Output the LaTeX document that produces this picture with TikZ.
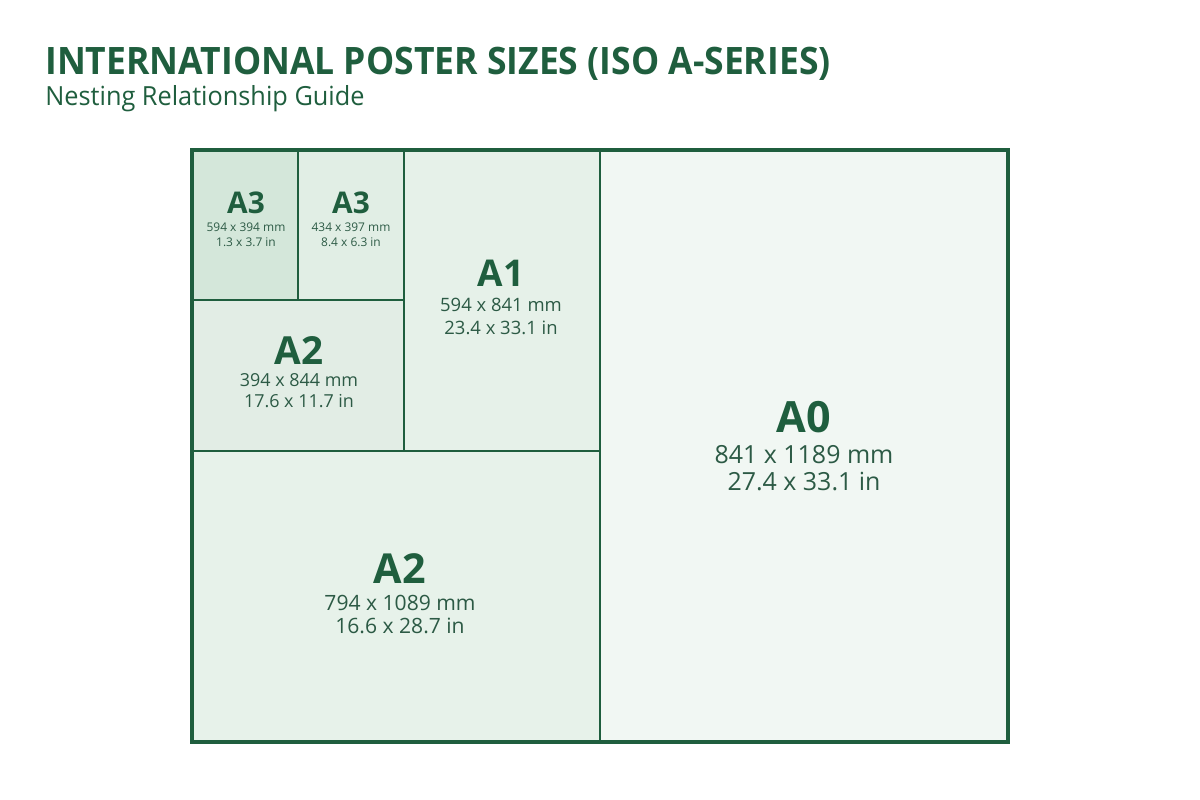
\documentclass[tikz,border=0pt]{standalone}
\usepackage{fontspec}
\setmainfont{Open Sans}
\newfontfamily\titlefont[FakeStretch=0.94]{Open Sans}
\newfontfamily\subtitlefont[FakeStretch=0.96]{Open Sans}
\usetikzlibrary{fit}
\definecolor{bordergreen}{HTML}{1F5E3E}
\definecolor{textgreen}{HTML}{1F5E3E}
\definecolor{smallgreen}{HTML}{2C5A45}
\definecolor{fAthreeA}{HTML}{D4E7DA}
\definecolor{fAthreeB}{HTML}{E1EEE5}
\definecolor{fAtwoS}{HTML}{E2EDE5}
\definecolor{fAone}{HTML}{E6F1E9}
\definecolor{fAtwoB}{HTML}{E7F2EA}
\definecolor{fAzero}{HTML}{F1F7F3}
\tikzset{
  sheet/.style={draw=bordergreen, line width=1.4pt, inner sep=0pt, outer sep=0pt},
  big/.style={anchor=base, inner sep=0pt, text=textgreen, font=\bfseries\fontsize{#1}{#1}\selectfont},
  dim/.style={anchor=base, inner sep=0pt, text=smallgreen, font=\fontsize{#1}{#1}\selectfont},
}
\begin{document}
\begin{tikzpicture}[x=0.02cm, y=-0.02cm]
\useasboundingbox[fill=white] (0,0) rectangle (1200,800);
% title
\node[anchor=base west, inner sep=0pt, text=textgreen, font=\titlefont\bfseries\fontsize{21.5pt}{21.5pt}\selectfont] (title) at (45,75) {INTERNATIONAL POSTER SIZES (ISO A-SERIES)};
\node[anchor=base west, inner sep=0pt, text=textgreen, font=\subtitlefont\fontsize{15pt}{15pt}\selectfont] (subtitle) at (45,106) {Nesting Relationship Guide};
% sheets
\node[sheet, fill=fAzero, fit={(600,150) (1008,742)}] (a0) {};
\node[sheet, fill=fAtwoB, fit={(192,451) (600,742)}] (a2b) {};
\node[sheet, fill=fAone, fit={(404,150) (600,451)}] (a1) {};
\node[sheet, fill=fAtwoS, fit={(192,300) (404,451)}] (a2s) {};
\node[sheet, fill=fAthreeA, fit={(192,150) (298,300)}] (a3a) {};
\node[sheet, fill=fAthreeB, fit={(298,150) (404,300)}] (a3b) {};
\node[draw=bordergreen, line width=2.4pt, inner sep=0pt, fit={(192,150) (1008,742)}] (outer) {};
% labels
\node[big=17pt] (a3aL) at (246,214) {A3};
\node[dim=6.8pt] (a3aM) at (246,232) {594 x 394 mm};
\node[dim=6.8pt] (a3aI) at (246,247) {1.3 x 3.7 in};
\node[big=17pt] (a3bL) at (351,214) {A3};
\node[dim=6.8pt] (a3bM) at (351,232) {434 x 397 mm};
\node[dim=6.8pt] (a3bI) at (351,247) {8.4 x 6.3 in};
\node[big=22pt] (a2sL) at (299,365) {A2};
\node[dim=10.2pt] (a2sM) at (299,387) {394 x 844 mm};
\node[dim=10.2pt] (a2sI) at (299,407) {17.6 x 11.7 in};
\node[big=21pt] (a1L) at (501,287) {A1};
\node[dim=10.5pt] (a1M) at (501,312) {594 x 841 mm};
\node[dim=10.5pt] (a1I) at (501,335) {23.4 x 33.1 in};
\node[big=24.5pt] (a0L) at (804,432) {A0};
\node[dim=14.2pt] (a0M) at (804,463) {841 x 1189 mm};
\node[dim=14.2pt] (a0I) at (804,490) {27.4 x 33.1 in};
\node[big=23.5pt] (a2bL) at (400,583) {A2};
\node[dim=12pt] (a2bM) at (400,610) {794 x 1089 mm};
\node[dim=12pt] (a2bI) at (400,633) {16.6 x 28.7 in};
\end{tikzpicture}
\end{document}
